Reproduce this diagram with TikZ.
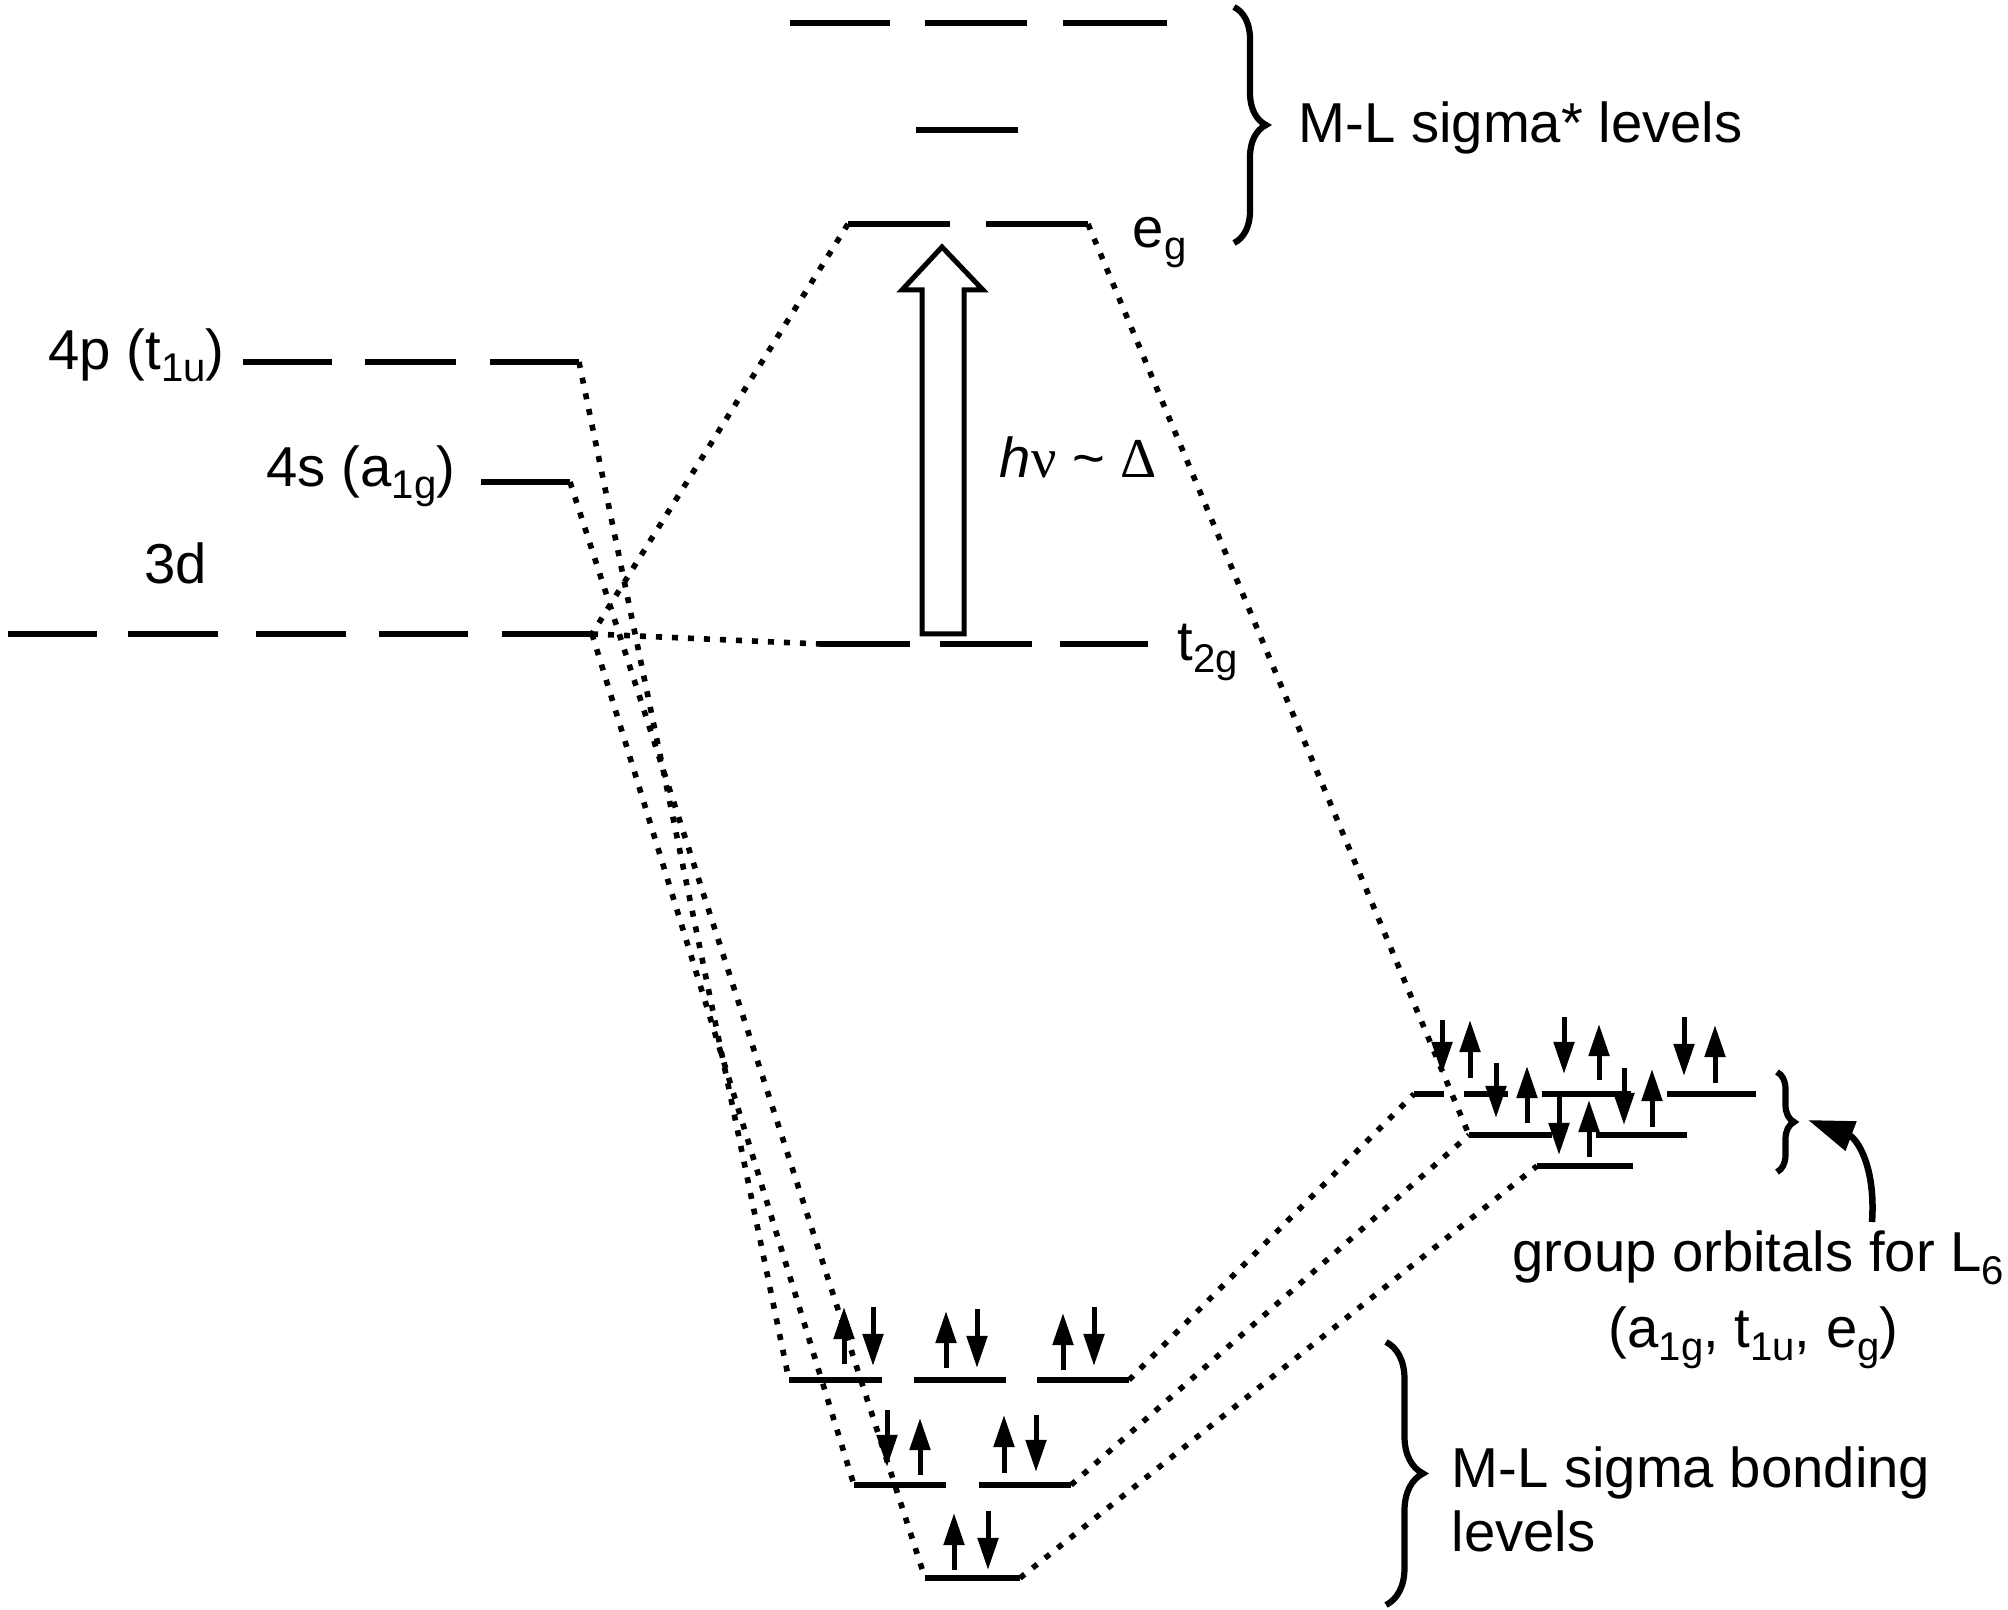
\documentclass[tikz,border=0pt]{standalone}
\usepackage{fontspec}
\setmainfont{Liberation Sans}
\newfontfamily\serifgreek{Liberation Serif}
\usetikzlibrary{arrows.meta,decorations.pathreplacing}
\newcommand\sbs[1]{\raisebox{-0.12cm}{\fontsize{11.4}{12}\selectfont #1}}
\begin{document}
\begin{tikzpicture}[x=0.01cm,y=-0.01cm,
  lvl/.style={line width=0.052cm},
  conn/.style={line width=0.056cm, dash pattern=on 0.06cm off 0.10cm},
  spin/.style={line width=0.05cm, -{Triangle[length=0.32cm,width=0.2cm]}},
  curv/.style={line width=0.065cm, -{Triangle[length=0.46cm,width=0.3cm]}},
  lbl/.style={inner sep=0pt, anchor=base west, font=\fontsize{16}{19.2}\selectfont},
  brc/.style={line width=0.062cm, decorate, decoration={brace, amplitude=#1}},
  hollow/.style={line width=0.05cm, fill=white, line join=miter},
]
\useasboundingbox (0,0) rectangle (2008,1610);

% ---- named level end points
\coordinate (egL) at (848,224);   \coordinate (egR) at (1088,224);
\coordinate (p4R) at (579,362);   \coordinate (s4R) at (570,482);
\coordinate (d3R) at (592,634);   \coordinate (t2L) at (820,644);
\coordinate (bt1L) at (789,1380); \coordinate (bt1R) at (1129,1380);
\coordinate (begL) at (854,1485); \coordinate (begR) at (1071,1485);
\coordinate (ba1L) at (925,1578); \coordinate (ba1R) at (1020,1578);
\coordinate (luL) at (1414,1094); \coordinate (lmL) at (1469,1135);
\coordinate (llL) at (1537,1166);

% ---- sigma* levels
\draw[lvl] (790,23) -- (890,23) (925,23) -- (1027,23) (1063,23) -- (1167,23);
\draw[lvl] (916,130) -- (1018,130);
\draw[lvl] (egL) -- (950,224) (986,224) -- (egR);

% ---- metal levels
\draw[lvl] (243,362) -- (332,362) (365,362) -- (456,362) (490,362) -- (p4R);
\draw[lvl] (481,482) -- (s4R);
\draw[lvl] (8,634) -- (97,634) (128,634) -- (218,634) (256,634) -- (346,634)
           (379,634) -- (468,634) (502,634) -- (d3R);
\draw[lvl] (t2L) -- (910,644) (940,644) -- (1032,644) (1060,644) -- (1148,644);

% ---- bonding levels
\draw[lvl] (bt1L) -- (882,1380) (914,1380) -- (1006,1380) (1037,1380) -- (bt1R);
\draw[lvl] (begL) -- (946,1485) (979,1485) -- (begR);
\draw[lvl] (ba1L) -- (ba1R);

% ---- ligand group orbitals
\draw[lvl] (luL) -- (1444,1094) (1464,1094) -- (1508,1094) (1542,1094) -- (1631,1094)
           (1667,1094) -- (1756,1094);
\draw[lvl] (lmL) -- (1552,1135) (1596,1135) -- (1687,1135);
\draw[lvl] (llL) -- (1633,1166);

% ---- correlation lines
\draw[conn] (egL) -- (d3R);
\draw[conn] (egR) -- (lmL);
\draw[conn] (d3R) -- (t2L);
\draw[conn] (p4R) -- (bt1L);
\draw[conn] (s4R) -- (ba1L);
\draw[conn] (d3R) -- (begL);
\draw[conn] (bt1R) -- (luL);
\draw[conn] (begR) -- (lmL);
\draw[conn] (ba1R) -- (llL);

% ---- electrons
\foreach \x/\a/\b in {844/1364/1307, 873/1307/1366, 946/1368/1311, 977/1309/1368,
  1063/1370/1313, 1094/1307/1366, 887/1410/1467, 920/1475/1418, 1004/1473/1415,
  1036/1415/1472, 954/1570/1513, 988/1511/1570,
  1442/1020/1074, 1470/1078/1020, 1564/1017/1074, 1599/1080/1024, 1684/1017/1076,
  1715/1083/1025, 1496/1063/1118, 1527/1123/1066, 1624/1068/1125, 1652/1127/1069,
  1559/1096/1155, 1589/1157/1100}
  \draw[spin] (\x,\a) -- (\x,\b);

% ---- excitation arrow
\draw[hollow] (922,634) -- (922,290) -- (902,290) -- (942,247) -- (983,290)
  -- (964,290) -- (964,634) -- cycle;

% ---- labels
\node[lbl] (l4p) at (48,370) {4p (t\sbs{1u})};
\node[lbl] (l4s) at (266,487) {4s (a\sbs{1g})};
\node[lbl] (l3d) at (144,584) {3d};
\node[lbl] (leg) at (1132,248) {e\sbs{g}};
\node[lbl] (lt2g) at (1177,661) {t\sbs{2g}};
\node[lbl] (lhv) at (999,478) {\textit{h}{\serifgreek ν} \textasciitilde{} {\serifgreek Δ}};
\node[lbl] (lsig) at (1298,143) {M-L sigma* levels};
\node[lbl] (lgrp) at (1512,1272) {group orbitals for L\sbs{6}};
\node[lbl] (lgrp2) at (1608,1348) {(a\sbs{1g}, t\sbs{1u}, e\sbs{g})};
\node[lbl] (lbond) at (1451,1488) {M-L sigma bonding};
\node[lbl] (lbond2) at (1451,1552) {levels};

% ---- braces
\draw[brc=0.32cm] (1234,7) -- (1234,243);
\draw[brc=0.37cm] (1386,1342) -- (1386,1605);
\draw[brc=0.17cm] (1777,1072) -- (1777,1172);

% ---- pointer to ligand brace
\coordinate (cS) at (1872,1222);
\coordinate (cE) at (1808,1120);
\draw[curv] (cS) .. controls (1876,1165) and (1856,1138) .. (cE);
\end{tikzpicture}
\end{document}
